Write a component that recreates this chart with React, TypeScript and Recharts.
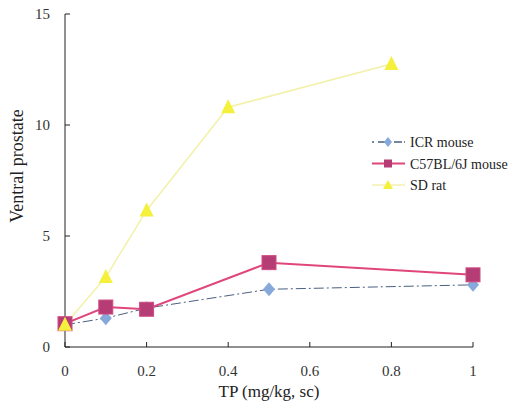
import { Label, Line, LineChart, XAxis, YAxis } from "recharts";

const icrDose = [0, 0.1, 0.2, 0.5, 1];
const icrValues = [1.0, 1.3, 1.75, 2.6, 2.8];
const c57Dose = [0, 0.1, 0.2, 0.5, 1];
const c57Values = [1.05, 1.8, 1.7, 3.8, 3.25];
const ratDose = [0, 0.1, 0.2, 0.4, 0.8];
const ratValues = [1.0, 3.15, 6.15, 10.8, 12.75];

const xTicks = [0, 0.2, 0.4, 0.6, 0.8, 1];
const yTicks = [0, 5, 10, 15];

const FONT = "'Liberation Serif', 'DejaVu Serif', serif";

const icrData = icrDose.map((d, i) => ({ dose: d, value: icrValues[i] }));
const c57Data = c57Dose.map((d, i) => ({ dose: d, value: c57Values[i] }));
const ratData = ratDose.map((d, i) => ({ dose: d, value: ratValues[i] }));

const Diamond = ({ cx, cy }: any) => (
  <polygon points={`${cx},${cy - 7} ${cx + 6},${cy} ${cx},${cy + 7} ${cx - 6},${cy}`} fill="#86a9dc" />
);
const Square = ({ cx, cy }: any) => (
  <rect x={cx - 7} y={cy - 7} width={14} height={14} fill="#b63c76" stroke="#d04a80" strokeWidth={1} />
);
const Triangle = ({ cx, cy }: any) => (
  <polygon points={`${cx},${cy - 8} ${cx + 7},${cy + 6} ${cx - 7},${cy + 6}`} fill="#f4f03c" />
);

const legendItems = [
  { name: "ICR mouse", stroke: "#4a5f80", dash: "2 4 8 2", marker: "diamond" },
  { name: "C57BL/6J mouse", stroke: "#e0457b", dash: undefined, marker: "square" },
  { name: "SD rat", stroke: "#f3f1b0", dash: undefined, marker: "triangle" },
];

// legend drawn over the chart so it doesn't shrink the plot area
function LegendBox() {
  return (
    <svg width={160} height={70} style={{ position: "absolute", left: 365, top: 132, overflow: "visible" }}>
      {legendItems.map((it, i) => {
        const y = 10 + i * 21.5;
        const cx = 23;
        return (
          <g key={it.name}>
            <line x1={7} x2={40} y1={y} y2={y} stroke={it.stroke} strokeWidth={it.marker === "square" ? 2 : 1.5} strokeDasharray={it.dash} />
            {it.marker === "diamond" && (
              <polygon points={`${cx},${y - 5} ${cx + 4},${y} ${cx},${y + 5} ${cx - 4},${y}`} fill="#86a9dc" />
            )}
            {it.marker === "square" && <rect x={cx - 4} y={y - 4} width={8} height={8} fill="#b63c76" />}
            {it.marker === "triangle" && (
              <polygon points={`${cx},${y - 5} ${cx + 5},${y + 4} ${cx - 5},${y + 4}`} fill="#f4f03c" />
            )}
            <text x={45} y={y + 5} fontFamily={FONT} fontSize={14} fill="#222">
              {it.name}
            </text>
          </g>
        );
      })}
    </svg>
  );
}

export default function App() {
  return (
    <div style={{ position: "absolute", left: 0, top: 0, width: 523, height: 412, background: "#fff" }}>
      <LineChart width={523} height={412} margin={{ top: 14, right: 50, bottom: 0, left: 0 }}>
        <XAxis
          type="number"
          dataKey="dose"
          domain={[0, 1]}
          ticks={xTicks}
          tickFormatter={(v) => String(v)}
          height={65}
          tickSize={-5}
          tickMargin={23}
          stroke="#222"
          tick={{ fill: "#333", fontFamily: FONT, fontSize: 15 }}
          allowDuplicatedCategory={false}
        >
          <Label value="TP (mg/kg, sc)" position="insideBottom" offset={15} fill="#222" fontFamily={FONT} fontSize={17} />
        </XAxis>
        <YAxis
          type="number"
          domain={[0, 15]}
          ticks={yTicks}
          width={65}
          tickSize={-5}
          tickMargin={20}
          stroke="#222"
          tick={{ fill: "#333", fontFamily: FONT, fontSize: 15 }}
        >
          <Label
            content={() => (
              <text
                x={23}
                y={166}
                transform="rotate(-90 23 166)"
                textAnchor="middle"
                fill="#222"
                fontFamily={FONT}
                fontSize={18}
              >
                Ventral prostate
              </text>
            )}
          />
        </YAxis>
        <Line
          data={icrData}
          dataKey="value"
          name="ICR mouse"
          stroke="#4a5f80"
          strokeWidth={1}
          strokeDasharray="10 3 2 3"
          dot={<Diamond />}
          isAnimationActive={false}
        />
        <Line
          data={c57Data}
          dataKey="value"
          name="C57BL/6J mouse"
          stroke="#e0457b"
          strokeWidth={2}
          dot={<Square />}
          isAnimationActive={false}
        />
        <Line
          data={ratData}
          dataKey="value"
          name="SD rat"
          stroke="#f3f1a8"
          strokeWidth={1.5}
          dot={<Triangle />}
          isAnimationActive={false}
        />
      </LineChart>
      <LegendBox />
    </div>
  );
}
